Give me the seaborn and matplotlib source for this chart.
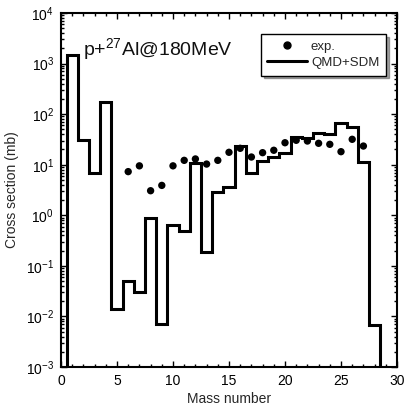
import numpy as np
import pandas as pd
import matplotlib
matplotlib.use("Agg")
import matplotlib.pyplot as plt
from matplotlib.lines import Line2D
from matplotlib.ticker import MultipleLocator, LogLocator, NullFormatter
import seaborn as sns

# QMD+SDM calculation, one bin per mass number
qmd_mass = list(range(1, 29))
qmd_xs = [1480, 31, 6.9, 174, 0.014, 0.050, 0.030, 0.88, 0.0071, 0.64,
          0.50, 11, 0.19, 2.9, 3.6, 23.8, 6.9, 11.7, 14.4, 17.3,
          35.8, 34.2, 43, 40.5, 66, 56, 11.5, 0.0067]

# experimental points
exp_mass = list(range(6, 28))
exp_xs = [7.3, 9.5, 3.06, 3.9, 9.5, 12.2, 13, 10.3, 12.2, 17.6,
          21.1, 14.2, 17.3, 19.3, 27.2, 30.4, 29.4, 26.5, 25.3, 18.1,
          31.8, 23.4]

sns.set_style("ticks")
plt.rcParams['font.family'] = ['Liberation Sans', 'DejaVu Sans']
plt.rcParams['mathtext.fontset'] = 'custom'
plt.rcParams['mathtext.rm'] = 'Liberation Sans'
plt.rcParams['mathtext.it'] = 'Liberation Sans:italic'
plt.rcParams['mathtext.bf'] = 'Liberation Sans:bold'

fig = plt.figure(figsize=(4.05, 4.19), dpi=100)
ax = fig.add_axes([61 / 405, 1 - 367 / 419, 336 / 405, 354 / 419])
ax.set_yscale('log')

edges = np.arange(qmd_mass[0] - 0.5, qmd_mass[-1] + 1.0, 1.0)
ax.stairs(qmd_xs, edges, baseline=1e-6, color='black', lw=2.2)

df = pd.DataFrame({'mass': exp_mass, 'xs': exp_xs})
sns.scatterplot(data=df, x='mass', y='xs', ax=ax, color='black', s=28,
                edgecolor='none', legend=False)

ax.set_xlim(0, 30)
ax.set_ylim(1e-3, 1e4)
ax.xaxis.set_major_locator(MultipleLocator(5))
ax.xaxis.set_minor_locator(MultipleLocator(1))
ax.yaxis.set_major_locator(LogLocator(base=10, numticks=20))
ax.yaxis.set_minor_locator(LogLocator(base=10, subs=np.arange(2, 10), numticks=20))
ax.yaxis.set_minor_formatter(NullFormatter())
ax.tick_params(which='both', direction='in', top=True, right=True,
               labelsize=10, width=1, colors='black')
ax.tick_params(which='major', length=4.5, pad=5)
ax.tick_params(which='minor', length=2.5)
for sp in ax.spines.values():
    sp.set_linewidth(1.5)
    sp.set_color('black')

ax.set_xlabel('Mass number', fontsize=10, labelpad=3)
ax.set_ylabel('Cross section (mb)', fontsize=10, labelpad=5)

ax.text(0.066, 0.881, r'p+$^{27}$Al@180MeV', transform=ax.transAxes,
        fontsize=14, va='baseline', ha='left', color='#111111')

handles = [Line2D([], [], marker='o', ls='none', color='black', markersize=5),
           Line2D([], [], color='black', lw=2.2)]
leg = ax.legend(handles, ['exp.', 'QMD+SDM'], loc='upper right',
                bbox_to_anchor=(0.967, 0.941), borderaxespad=0,
                fontsize=9.5, frameon=True, fancybox=False, shadow=True,
                handlelength=3.0, handletextpad=0.3, borderpad=0.5,
                labelspacing=0.3)
leg.get_frame().set_edgecolor('black')
leg.get_frame().set_linewidth(1.0)
leg.get_frame().set_alpha(1)

fig.savefig('out.png', dpi=100)
